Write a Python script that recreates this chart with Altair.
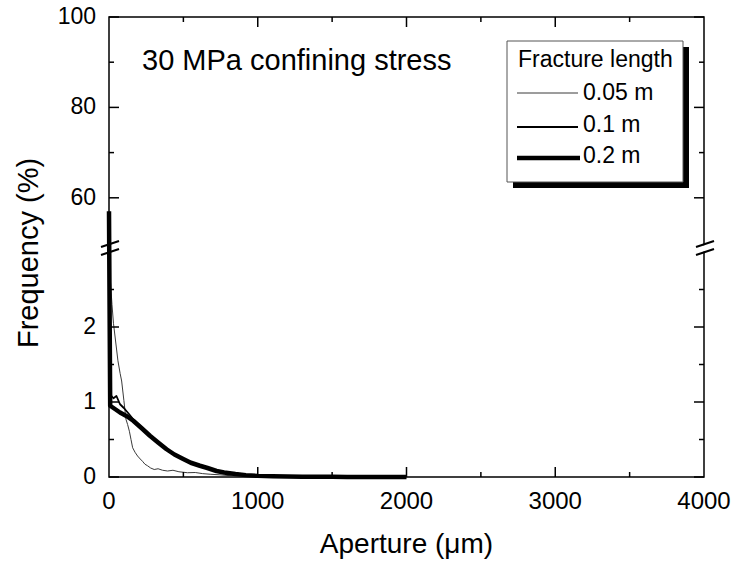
import altair as alt
import pandas as pd

# ---------------- data ----------------
series_names = ["0.05 m", "0.1 m", "0.2 m"]

aperture_005 = [0, 10, 20, 30, 45, 60, 75, 85, 100, 114, 125, 137, 148, 159, 175, 192,
                210, 225, 242, 259, 280, 304, 330, 360, 394, 430, 470, 528, 580, 630,
                685, 740, 800, 880]
freq_005 = [12.0, 2.6, 2.3, 2.05, 1.8, 1.55, 1.38, 1.28, 1.02, 0.77, 0.70, 0.61, 0.50,
            0.39, 0.33, 0.28, 0.24, 0.21, 0.17, 0.15, 0.12, 0.10, 0.11, 0.09, 0.08,
            0.09, 0.07, 0.057, 0.06, 0.045, 0.036, 0.03, 0.02, 0.01]

aperture_01 = [0, 8, 30, 50, 74, 100, 130, 163, 220, 275, 330, 387, 440, 499, 550, 611,
               662, 723, 774, 850, 920, 1000, 1100, 1200, 1300, 1400, 1500, 1600, 1700]
freq_01 = [25.0, 1.1, 1.05, 1.08, 0.97, 0.92, 0.85, 0.77, 0.66, 0.56, 0.46, 0.38, 0.30,
           0.24, 0.19, 0.15, 0.11, 0.08, 0.06, 0.04, 0.025, 0.015, 0.01, 0.006, 0.004,
           0.002, 0.001, 0.0, 0.0]

aperture_02 = [0, 8, 30, 74, 120, 163, 220, 275, 330, 387, 440, 499, 550, 611, 662, 723,
               774, 850, 920, 1000, 1100, 1200, 1300, 1400, 1500, 1600, 1700, 1800, 1900,
               2000]
freq_02 = [57.0, 0.95, 0.92, 0.86, 0.81, 0.75, 0.65, 0.55, 0.46, 0.37, 0.30, 0.24, 0.19,
           0.15, 0.12, 0.08, 0.06, 0.04, 0.025, 0.015, 0.01, 0.006, 0.004, 0.003, 0.002,
           0.001, 0.001, 0.0, 0.0, 0.0]

y_major = [0, 1, 2, 60, 80, 100]
y_minor = [0.5, 1.5, 2.5, 70, 90]
x_major = [0, 1000, 2000, 3000, 4000]
x_minor = [500, 1500, 2500, 3500]
y_tick_labels = ["0", "1", "2", "60", "80", "100"]
x_tick_labels = ["0", "1000", "2000", "3000", "4000"]

# ---------------- layout ----------------
W, H = 595, 460
FONT = "Liberation Sans"

xscale = alt.Scale(domain=[0, 4000], nice=False, zero=False)
# broken axis: 0-3 in the lower part, 50-100 in the upper part
yscale = alt.Scale(domain=[0, 3, 50, 100], range=[H, 235, 226, 0], nice=False, zero=False)

one = alt.Data(values=[{"a": 1}])


def series_line(xs, ys, color, width):
    d = pd.DataFrame({"aperture": xs, "freq": ys, "idx": list(range(len(xs)))})
    return alt.Chart(d).mark_line(color=color, strokeWidth=width, strokeJoin="round").encode(
        x=alt.X("aperture:Q", scale=xscale, axis=None),
        y=alt.Y("freq:Q", scale=yscale, axis=None),
        order="idx:Q",
    )


line_layers = [
    series_line(aperture_005, freq_005, "#3a3a3a", 1.0),
    series_line(aperture_01, freq_01, "black", 1.8),
    series_line(aperture_02, freq_02, "black", 4.5),
]


def yticks(vals, x0, x1):
    return alt.Chart(pd.DataFrame({"freq": vals})).mark_rule(
        color="black", strokeWidth=1.5).encode(
        y=alt.Y("freq:Q", scale=yscale, axis=None), x=alt.value(x0), x2=alt.value(x1))


def xticks(vals, y0, y1):
    return alt.Chart(pd.DataFrame({"aperture": vals})).mark_rule(
        color="black", strokeWidth=1.5).encode(
        x=alt.X("aperture:Q", scale=xscale, axis=None), y=alt.value(y0), y2=alt.value(y1))


tick_layers = [
    yticks(y_major, 0, 10), yticks(y_minor, 0, 5),
    yticks(y_major, W - 10, W), yticks(y_minor, W - 5, W),
    xticks(x_major[1:-1], H, H - 10), xticks(x_minor, H, H - 5),
    xticks(x_major[1:-1], 0, 10), xticks(x_minor, 0, 5),
]

# tick labels, placed through the scales
y_label_layer = alt.Chart(pd.DataFrame({"freq": y_major, "lab": y_tick_labels})).mark_text(
    font=FONT, fontSize=23, color="black", align="right", baseline="middle").encode(
    y=alt.Y("freq:Q", scale=yscale, axis=None), x=alt.value(-13), text="lab:N")
x_label_layer = alt.Chart(pd.DataFrame({"aperture": x_major, "lab": x_tick_labels})).mark_text(
    font=FONT, fontSize=24, color="black", align="center", baseline="top").encode(
    x=alt.X("aperture:Q", scale=xscale, axis=None), y=alt.value(H + 13), text="lab:N")


def seg(x0, y0, x1, y1, color="black", width=2.0):
    return alt.Chart(one).mark_rule(color=color, strokeWidth=width).encode(
        x=alt.value(x0), y=alt.value(y0), x2=alt.value(x1), y2=alt.value(y1))


gaps = [seg(W - 8, 234, W + 10, 228, "white", 6)]
slashes = [seg(-8, 230, 10, 224), seg(-8, 238, 10, 232),
           seg(W - 8, 230, W + 10, 224), seg(W - 8, 238, W + 10, 232)]

shadow = alt.Chart(one).mark_rect(color="black").encode(
    x=alt.value(404), x2=alt.value(580), y=alt.value(30), y2=alt.value(171))
box = alt.Chart(one).mark_rect(fill="white", stroke="#555555", strokeWidth=1).encode(
    x=alt.value(398), x2=alt.value(574), y=alt.value(24), y2=alt.value(165))


def txt(s, x, y, size, align="left", baseline="alphabetic", angle=0):
    return alt.Chart(one).mark_text(text=s, font=FONT, fontSize=size, color="black",
                                    align=align, baseline=baseline, angle=angle).encode(
        x=alt.value(x), y=alt.value(y))


legend_layers = [
    shadow, box,
    txt("Fracture length", 409, 50, 23),
    seg(408, 76, 469, 76, "#3a3a3a", 1.0), txt(series_names[0], 474, 83, 23),
    seg(408, 110, 469, 110, "black", 1.8), txt(series_names[1], 474, 115, 23),
    seg(408, 141, 471, 141, "black", 4.5), txt(series_names[2], 474, 146, 23),
]

annotation = txt("30 MPa confining stress", 33, 53, 29)
x_title = txt("Aperture (\u03bcm)", W / 2, H + 76, 28, align="center")
y_title = txt("Frequency (%)", -80, 236, 29, align="center", baseline="middle", angle=270)

chart = alt.layer(
    *line_layers, *gaps, *tick_layers, *slashes, *legend_layers, annotation,
    y_label_layer, x_label_layer, x_title, y_title
).properties(
    width=W, height=H,
    padding={"left": 109, "top": 17, "right": 736 - 109 - W, "bottom": 563 - 17 - H},
    autosize=alt.AutoSizeParams(type="none"),
    background="white",
).configure_view(stroke="black", strokeWidth=1.5)

chart.save("out.html", embed_options={"renderer": "svg", "actions": False})
